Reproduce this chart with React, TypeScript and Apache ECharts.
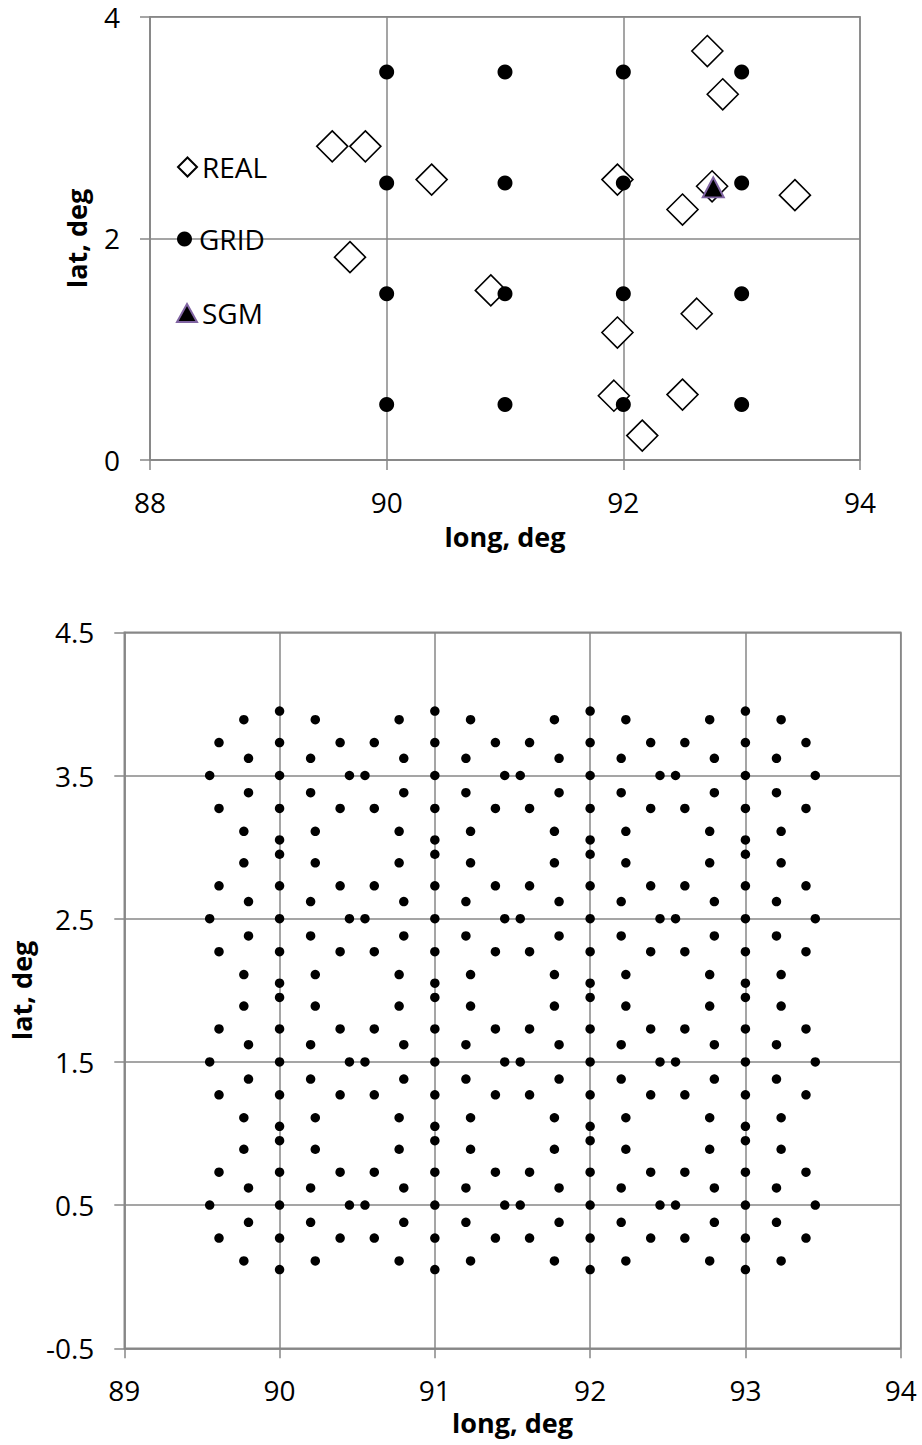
import React, { useEffect, useRef } from "react";
import * as echarts from "echarts";

// ---------- Top chart data ----------
const realLon = [89.54, 89.82, 90.38, 89.69, 90.88, 91.95, 91.95, 92.62, 91.92, 92.5, 92.16, 92.71, 92.84, 92.75, 92.5, 93.45];
const realLat = [2.83, 2.83, 2.53, 1.83, 1.53, 1.15, 2.53, 1.32, 0.58, 0.59, 0.22, 3.69, 3.3, 2.47, 2.26, 2.39];

const gridLon = [90, 90, 90, 90, 91, 91, 91, 91, 92, 92, 92, 92, 93, 93, 93, 93];
const gridLat = [0.5, 1.5, 2.5, 3.5, 0.5, 1.5, 2.5, 3.5, 0.5, 1.5, 2.5, 3.5, 0.5, 1.5, 2.5, 3.5];

const sgmLon = [92.76];
const sgmLat = [2.46];

const topXTicks = [88, 90, 92, 94];
const topYTicks = [0, 2, 4];

// ---------- Bottom chart data (columns of points) ----------
const lonEdge = [89.55, 90.45, 90.55, 91.45, 91.55, 92.45, 92.55, 93.45];
const latEdge = [0.5, 1.5, 2.5, 3.5];

const lonOuter30 = [89.61, 90.39, 90.61, 91.39, 91.61, 92.39, 92.61, 93.39];
const latOuter30 = [0.27, 0.73, 1.27, 1.73, 2.27, 2.73, 3.27, 3.73];

const lonOuter60 = [89.77, 90.23, 90.77, 91.23, 91.77, 92.23, 92.77, 93.23];
const latOuter60 = [0.11, 0.89, 1.11, 1.89, 2.11, 2.89, 3.11, 3.89];

const lonInner = [89.8, 90.2, 90.8, 91.2, 91.8, 92.2, 92.8, 93.2];
const latInner = [0.38, 0.62, 1.38, 1.62, 2.38, 2.62, 3.38, 3.62];

const lonMid = [90, 91, 92, 93];
const latMid = [0.05, 0.27, 0.5, 0.73, 0.95, 1.05, 1.27, 1.5, 1.73, 1.95, 2.05, 2.27, 2.5, 2.73, 2.95, 3.05, 3.27, 3.5, 3.73, 3.95];

const bottomXTicks = [89, 90, 91, 92, 93, 94];
const bottomYTicks = [-0.5, 0.5, 1.5, 2.5, 3.5, 4.5];

// ---------- helpers ----------
const zip = (xs: number[], ys: number[]) => xs.map((x, i) => [x, ys[i]]);
const columns = (xs: number[], ys: number[]) => {
  const out: number[][] = [];
  xs.forEach((x) => ys.forEach((y) => out.push([x, y])));
  return out;
};

const bottomPoints = [
  ...columns(lonEdge, latEdge),
  ...columns(lonOuter30, latOuter30),
  ...columns(lonOuter60, latOuter60),
  ...columns(lonInner, latInner),
  ...columns(lonMid, latMid),
];

const GRAY = "#878787";
const FONT = "Open Sans";

function valueAxis(
  gridIndex: number,
  ticks: number[],
  name: string,
  nameGap: number,
  labelMargin: number,
  isY: boolean,
  fmt: (v: number) => string
) {
  return {
    type: "value",
    gridIndex,
    min: ticks[0],
    max: ticks[ticks.length - 1],
    interval: ticks[1] - ticks[0],
    name,
    nameLocation: "middle",
    nameGap,
    nameRotate: isY ? 90 : 0,
    nameTextStyle: { fontFamily: FONT, fontSize: 27, lineHeight: 27, fontWeight: "bold", color: "#000" },
    axisLine: { show: true, onZero: false, lineStyle: { color: GRAY, width: 1.5 } },
    axisTick: { show: true, inside: false, length: 10, lineStyle: { color: GRAY, width: 1.5 } },
    splitLine: { show: true, lineStyle: { color: GRAY, width: 1.5 } },
    axisLabel: {
      fontFamily: FONT,
      fontSize: 28,
      lineHeight: 28,
      color: "#000",
      margin: labelMargin,
      formatter: fmt,
    },
  };
}

export default function App() {
  const ref = useRef<HTMLDivElement>(null);

  useEffect(() => {
    if (!ref.current) return;
    const chart = echarts.init(ref.current, undefined, { renderer: "svg" });
    const legendText = { fontFamily: FONT, fontSize: 28, lineHeight: 28, color: "#000" };
    chart.setOption({
      animation: false,
      backgroundColor: "#fff",
      textStyle: { fontFamily: FONT },
      grid: [
        { left: 150, top: 16.7, width: 710, height: 443.3, show: true, borderColor: GRAY, borderWidth: 1.5, backgroundColor: "transparent" },
        { left: 114.7, top: 632.3, width: 786, height: 716, show: true, borderColor: GRAY, borderWidth: 1.5, backgroundColor: "transparent" },
      ],
      xAxis: [
        valueAxis(0, topXTicks, "long, deg", 63, 28, false, (v) => String(v)),
        valueAxis(1, bottomXTicks, "long, deg", 61, 28, false, (v) => String(v)),
      ],
      yAxis: [
        valueAxis(0, topYTicks, "lat, deg", 60, 30, true, (v) => String(v)),
        valueAxis(1, bottomYTicks, "lat, deg", 78, 30, true, (v) => v.toFixed(1)),
      ],
      legend: [
        { data: ["REAL"], left: 177, top: 153, padding: 0, itemWidth: 19, itemHeight: 19, textStyle: legendText, selectedMode: false },
        { data: ["GRID"], left: 177, top: 225, padding: 0, itemWidth: 19, itemHeight: 15, textStyle: legendText, selectedMode: false },
        { data: ["SGM"], left: 176, top: 299, padding: 0, itemWidth: 20, itemHeight: 18, textStyle: legendText, selectedMode: false },
      ],
      series: [
        {
          name: "REAL",
          type: "scatter",
          xAxisIndex: 0,
          yAxisIndex: 0,
          symbol: "diamond",
          symbolSize: 31,
          silent: true,
          itemStyle: { color: "#fff", borderColor: "#000", borderWidth: 1.6, opacity: 1 },
          data: zip(realLon, realLat),
          z: 2,
        },
        {
          name: "GRID",
          type: "scatter",
          xAxisIndex: 0,
          yAxisIndex: 0,
          symbol: "circle",
          symbolSize: 15,
          silent: true,
          itemStyle: { color: "#000", opacity: 1 },
          data: zip(gridLon, gridLat),
          z: 3,
        },
        {
          name: "SGM",
          type: "scatter",
          xAxisIndex: 0,
          yAxisIndex: 0,
          symbol: "triangle",
          symbolSize: [21, 20],
          silent: true,
          itemStyle: { color: "#000", borderColor: "#8064A2", borderWidth: 2, opacity: 1 },
          data: zip(sgmLon, sgmLat),
          z: 4,
        },
        {
          name: "points",
          type: "scatter",
          xAxisIndex: 1,
          yAxisIndex: 1,
          symbol: "circle",
          symbolSize: 9.5,
          silent: true,
          itemStyle: { color: "#000", opacity: 1 },
          data: bottomPoints,
          z: 2,
        },
      ],
    });
    return () => chart.dispose();
  }, []);

  return (
    <div
      ref={ref}
      style={{ position: "absolute", left: 0, top: 0, width: 922, height: 1445, background: "#fff" }}
    />
  );
}
